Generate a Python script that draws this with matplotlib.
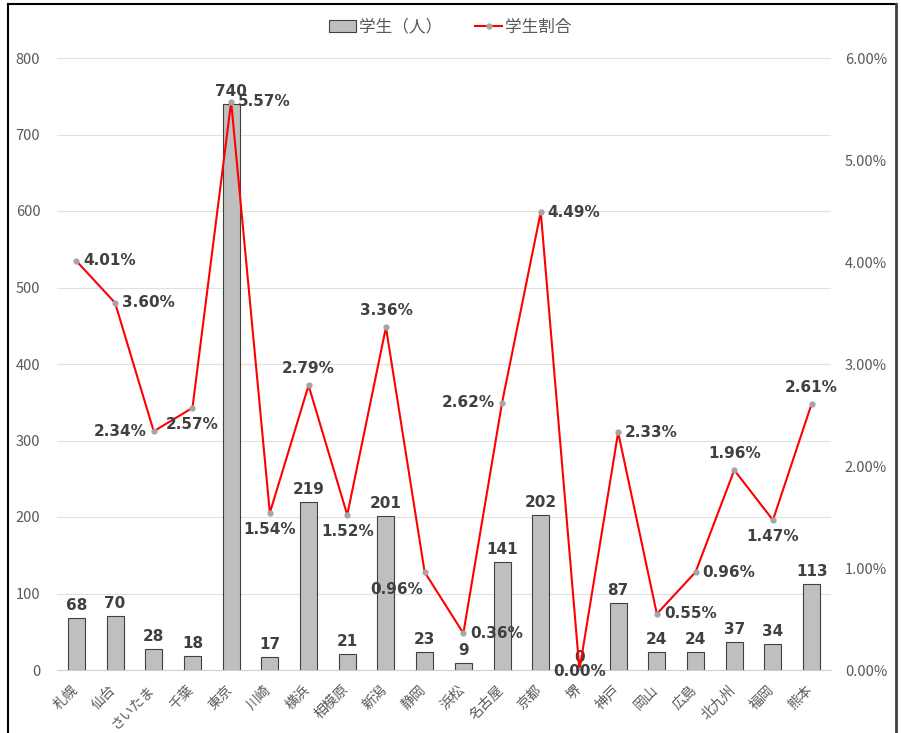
import matplotlib.pyplot as plt
import matplotlib.transforms as mtrans
from matplotlib.lines import Line2D
from matplotlib.patches import Patch
from matplotlib.ticker import FuncFormatter
import numpy as np

plt.rcParams['font.family'] = ['Noto Sans CJK JP', 'DejaVu Sans']

cities = ["札幌", "仙台", "さいたま", "千葉", "東京", "川崎", "横浜", "相模原", "新潟", "静岡",
          "浜松", "名古屋", "京都", "堺", "神戸", "岡山", "広島", "北九州", "福岡", "熊本"]
students = [68, 70, 28, 18, 740, 17, 219, 21, 201, 23, 9, 141, 202, 0, 87, 24, 24, 37, 34, 113]
ratio = [4.01, 3.60, 2.34, 2.57, 5.57, 1.54, 2.79, 1.52, 3.36, 0.96,
         0.36, 2.62, 4.49, 0.00, 2.33, 0.55, 0.96, 1.96, 1.47, 2.61]

# label placement for the percentage labels
pos = ['r', 'r', 'l', 'b', 'r', 'b', 't', 'b', 't', 'bl',
       'r', 'l', 'r', 'c', 'r', 'r', 'r', 't', 'b', 't']

fig = plt.figure(figsize=(9.01, 7.33), dpi=100)
ax = fig.add_axes([57 / 901, 1 - 670 / 733, (831 - 57) / 901, (670 - 58) / 733])
ax2 = ax.twinx()

x = np.arange(len(cities))
grey = '#595959'
lab = '#404040'

ax.bar(x, students, width=0.44, color='#bfbfbf', edgecolor='#404040', linewidth=0.8, zorder=2)
ax.set_ylim(0, 800)
ax.set_xlim(-0.5, len(cities) - 0.5)
ax.set_yticks(range(0, 801, 100))
ax.grid(axis='y', color='#e0e0e0', linewidth=0.8, zorder=0)
ax.set_axisbelow(True)
for s in ['top', 'left', 'right']:
    ax.spines[s].set_visible(False)
ax.spines['bottom'].set_color('#d0d0d0')
ax.tick_params(axis='y', length=0, colors=grey, labelsize=10.5, pad=12)
ax.tick_params(axis='x', length=0, colors=grey, labelsize=10, pad=9)
ax.set_xticks(x)
ax.set_xticklabels(cities, rotation=45, ha='right', va='top', rotation_mode='anchor')
shift = mtrans.ScaledTranslation(-6 / 100, 0, fig.dpi_scale_trans)
for t in ax.get_xticklabels():
    t.set_transform(t.get_transform() + shift)

for xi, v in zip(x, students):
    ax.annotate(str(v), (xi, v), xytext=(0, 5), textcoords='offset pixels',
                ha='center', va='bottom', fontsize=11, fontweight='bold', color=lab,
                family='DejaVu Sans')

ax2.plot(x, ratio, color='#ff0000', linewidth=1.5, marker='o', markersize=3.5,
         markerfacecolor='#a5a5a5', markeredgecolor='#a5a5a5', zorder=3)
ax2.set_ylim(0, 6)
ax2.set_yticks(range(0, 7))
ax2.yaxis.set_major_formatter(FuncFormatter(lambda v, p: f"{v:.2f}%"))
for s in ['top', 'left', 'right', 'bottom']:
    ax2.spines[s].set_visible(False)
ax2.tick_params(axis='y', length=0, colors=grey, labelsize=10.5, pad=10)

offs = {'r': ((7, 0), 'left', 'center'),
        'l': ((-7, 0), 'right', 'center'),
        't': ((0, 9), 'center', 'bottom'),
        'b': ((0, -9), 'center', 'top'),
        'bl': ((-28, -10), 'center', 'top'),
        'c': ((0, -1), 'center', 'center')}
for xi, v, p in zip(x, ratio, pos):
    off, ha, va = offs[p]
    ax2.annotate(f"{v:.2f}%", (xi, v), xytext=off, textcoords='offset pixels',
                 ha=ha, va=va, fontsize=11, fontweight='bold', color=lab,
                 family='DejaVu Sans', zorder=5, annotation_clip=False)

handles = [Patch(facecolor='#bfbfbf', edgecolor='#404040', linewidth=0.8),
           Line2D([], [], color='#ff0000', linewidth=1.5, marker='o', markersize=3.5,
                  markerfacecolor='#a5a5a5', markeredgecolor='#a5a5a5')]
fig.legend(handles, ["学生（人）", "学生割合"], loc='upper center', bbox_to_anchor=(0.5, 0.995),
           ncol=2, frameon=False, fontsize=12, labelcolor=grey, handlelength=1.6,
           handletextpad=0.2, columnspacing=2.0)

# frame around chart
W, H = 901, 733
fig.add_artist(Line2D([8 / W, 8 / W], [0, 1 - 4 / H], color='black', linewidth=1.5))
fig.add_artist(Line2D([8 / W, 896 / W], [1 - 4 / H, 1 - 4 / H], color='black', linewidth=1.5))
fig.add_artist(Line2D([896 / W, 896 / W], [0, 1 - 4 / H], color='#404040', linewidth=2))

fig.savefig('out.png', dpi=100)
